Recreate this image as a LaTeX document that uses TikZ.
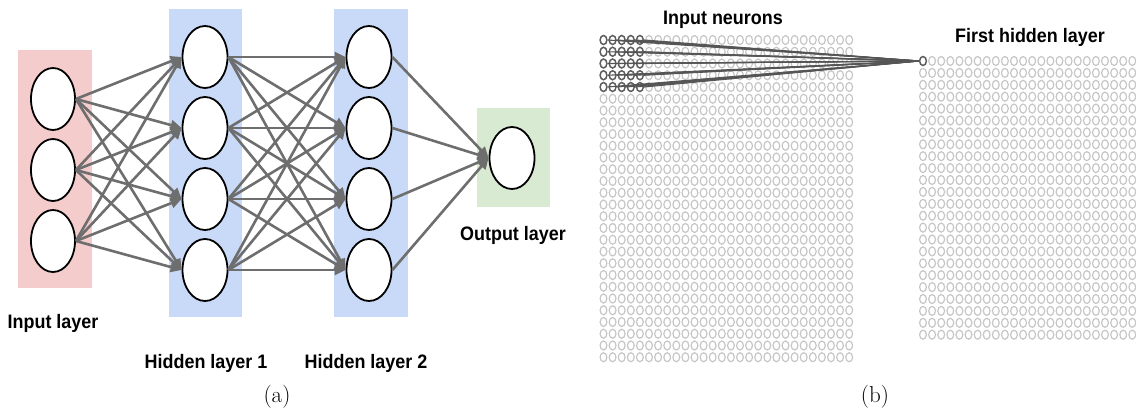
\documentclass[tikz,border=0pt]{standalone}
\usepackage{fontspec}
\usetikzlibrary{shapes.geometric,arrows.meta}
\newfontfamily\labfont[FakeStretch=0.92]{Liberation Sans}
\definecolor{pinkbg}{HTML}{F4CCCC}
\definecolor{bluebg}{HTML}{C9DAF8}
\definecolor{greenbg}{HTML}{D9EAD3}
\definecolor{arrowgray}{HTML}{6E6E6E}
\definecolor{gridlight}{HTML}{C6C6C6}
\definecolor{griddark}{HTML}{5E5E5E}
\definecolor{rfline}{HTML}{555555}
\tikzset{
  neuron/.style={ellipse, draw=black, line width=1.8pt, fill=white,
    minimum width=45pt, minimum height=62pt, inner sep=0pt},
  conn/.style={draw=arrowgray, line width=2.6pt,
    -{Triangle[length=11pt,width=10pt]}},
  lab/.style={font=\labfont\bfseries\fontsize{19.5}{22}\selectfont,
    inner sep=0pt, anchor=base},
  captext/.style={font=\fontsize{23}{26}\selectfont, inner sep=0pt, anchor=base},
  gcell0/.style={ellipse, draw=gridlight, line width=1.2pt,
    minimum width=6.8pt, minimum height=9pt, inner sep=0pt},
  gcell1/.style={gcell0, draw=griddark, line width=1.5pt},
  rf/.style={draw=rfline, line width=1.1pt}
}
\begin{document}
\begin{tikzpicture}[x=1pt,y=-1pt]
\useasboundingbox (0,0) rectangle (1136,412);
% ---------- panel (a) ----------
\fill[pinkbg] (18,50) rectangle (92,288);
\fill[bluebg] (169,9) rectangle (242,317);
\fill[bluebg] (334,9) rectangle (408,317);
\fill[greenbg] (477,108) rectangle (550,207);
\foreach \y [count=\i] in {99,170,241}
  \node[neuron, minimum width=44pt] (I\i) at (53,\y) {};
\foreach \y [count=\i] in {57,128,199,270}
  \node[neuron] (A\i) at (205,\y) {};
\foreach \y [count=\i] in {57,128,199,270}
  \node[neuron] (B\i) at (369,\y) {};
\node[neuron] (O) at (512,158) {};
\foreach \i in {1,2,3}
  \foreach \j in {1,...,4}
    \draw[conn] (I\i.east) -- (A\j.west);
\foreach \i in {1,...,4}
  \foreach \j in {1,...,4}
    \draw[conn] (A\i.east) -- (B\j.west);
\foreach \i in {1,...,4}
  \draw[conn] (B\i.east) -- (O.west);
\node[lab] (LI) at (53,328) {Input layer};
\node[lab] (LH1) at (206,368) {Hidden layer 1};
\node[lab] (LH2) at (366,368) {Hidden layer 2};
\node[lab] (LO) at (513,240) {Output layer};
\node[captext] (CA) at (277,402) {(a)};
% ---------- panel (b) ----------
\foreach \i in {0,...,27}
  \foreach \j in {0,...,27}{
    \pgfmathtruncatemacro\dk{(\i<5)&&(\j<5)}
    \node[gcell\dk] (p-\i-\j) at ({603.5+9.1*\i},{40+11.75*\j}) {};
  }
\foreach \i in {0,...,23}
  \foreach \j in {0,...,23}{
    \pgfmathtruncatemacro\dk{(\i==0)&&(\j==0)}
    \node[gcell\dk] (h-\i-\j) at ({923+9.1*\i},{61+11.9*\j}) {};
  }
\foreach \i in {0,...,4}
  \foreach \j in {0,...,4}
    \draw[rf] (p-\i-\j.east) -- (h-0-0.west);
\node[lab] (LIN) at (723,25) {Input neurons};
\node[lab] (LFH) at (1030,43) {First hidden layer};
\node[captext] (CB) at (875,402) {(b)};
\end{tikzpicture}
\end{document}
